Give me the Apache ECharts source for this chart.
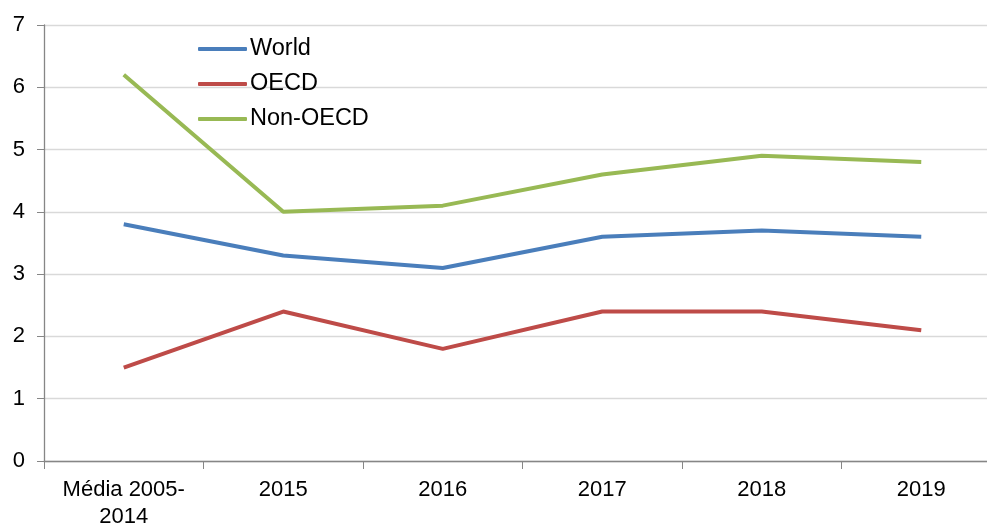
<!DOCTYPE html>
<html><head><meta charset="utf-8">
<script src="https://cdn.jsdelivr.net/npm/echarts@6/dist/echarts.min.js"></script>
<style>html,body{margin:0;padding:0;background:#fff}#c{width:987px;height:525px}</style>
</head><body><div id="c"></div>
<script>
const categories = ['Média 2005-\n2014', '2015', '2016', '2017', '2018', '2019'];
const world = [3.8, 3.3, 3.1, 3.6, 3.7, 3.6];
const oecd = [1.5, 2.4, 1.8, 2.4, 2.4, 2.1];
const nonOecd = [6.2, 4.0, 4.1, 4.6, 4.9, 4.8];
const yTicks = [0, 1, 2, 3, 4, 5, 6, 7];

const font = 'Liberation Sans, Arial, sans-serif';
const chart = echarts.init(document.getElementById('c'));
const mk = (name, data, color) => ({
  name, type: 'line', data, symbol: 'none', smooth: false,
  lineStyle: { color, width: 4 }, itemStyle: { color }
});
chart.setOption({
  animation: false,
  grid: { left: 44, width: 957, top: 25, bottom: 64, containLabel: false, outerBoundsMode: 'none' },
  legend: {
    orient: 'vertical', left: 198, top: 37, itemWidth: 49, itemHeight: 4,
    itemGap: 11, icon: 'roundRect', padding: 0,
    textStyle: { fontFamily: font, fontSize: 23.5, lineHeight: 24, color: '#000', padding: [0, 0, 0, -2] },
    data: ['World', 'OECD', 'Non-OECD']
  },
  xAxis: {
    type: 'category', data: categories, boundaryGap: true,
    axisLine: { lineStyle: { color: '#868686', width: 1.3 } },
    axisTick: { show: true, length: 8, lineStyle: { color: '#868686' } },
    axisLabel: { fontFamily: font, fontSize: 22, color: '#000', margin: 15, lineHeight: 27, interval: 0 },
    splitLine: { show: false }
  },
  yAxis: {
    type: 'value', min: yTicks[0], max: yTicks[yTicks.length - 1], interval: 1,
    axisLine: { show: true, lineStyle: { color: '#868686', width: 1.3 } },
    axisTick: { show: true, length: 7, lineStyle: { color: '#868686' } },
    axisLabel: { fontFamily: font, fontSize: 22, color: '#000', margin: 19 },
    splitLine: { lineStyle: { color: '#d9d9d9', width: 1.3 } }
  },
  series: [
    mk('World', world, '#4a7ebb'),
    mk('OECD', oecd, '#be4b48'),
    mk('Non-OECD', nonOecd, '#98b954')
  ]
});
</script></body></html>
